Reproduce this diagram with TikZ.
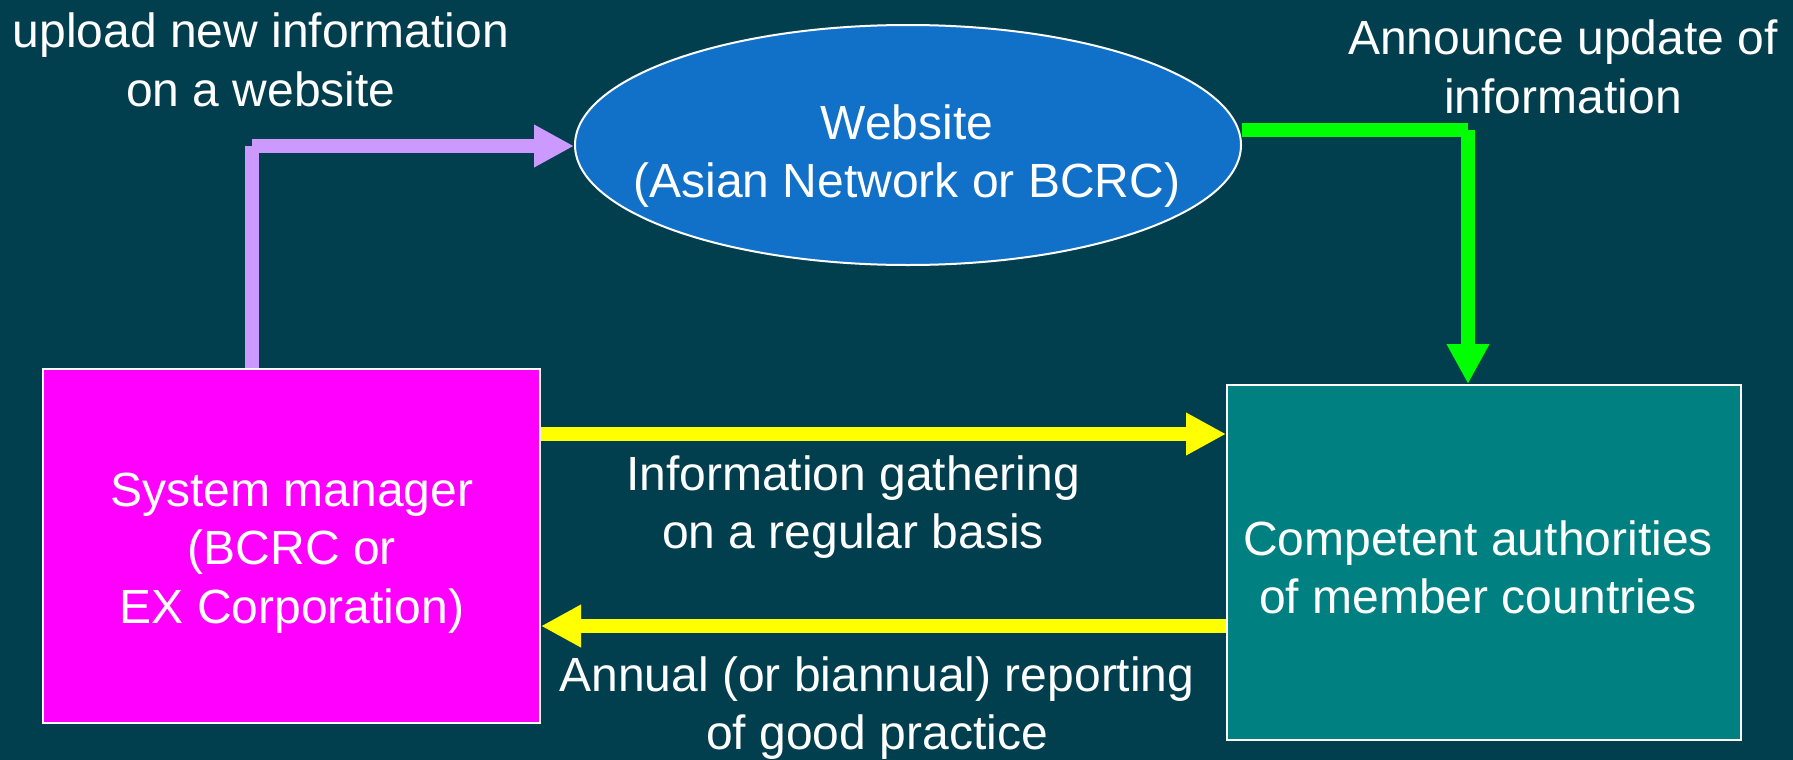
\documentclass[tikz,border=0pt]{standalone}
\usepackage{fontspec}
\setmainfont{Liberation Sans}
\usetikzlibrary{arrows.meta,shapes.geometric}
\definecolor{bgc}{RGB}{1,63,79}
\definecolor{webc}{RGB}{17,112,200}
\definecolor{tealc}{RGB}{0,128,128}
\definecolor{magc}{RGB}{255,0,255}
\definecolor{purc}{RGB}{204,153,255}
\definecolor{grnc}{RGB}{0,255,0}
\definecolor{yelc}{RGB}{255,255,0}
\tikzset{
  txt/.style={text=white, align=center, inner sep=0pt, font=\fontsize{24pt}{29.25pt}\selectfont},
  boxstyle/.style={draw=white, line width=1pt, inner sep=0pt},
  conn/.style={line width=7pt, line cap=butt},
  tipped/.style={conn, -{Triangle[length=20pt,width=20pt]}},
}
\begin{document}
\begin{tikzpicture}[x=0.5pt,y=-0.5pt]
\fill[bgc] (0,0) rectangle (1793,760);
\useasboundingbox (0,0) rectangle (1793,760);

\node[boxstyle, fill=magc, minimum width=248.5pt, minimum height=177pt] (sys) at (291.5,546) {};
\node[boxstyle, fill=tealc, minimum width=257pt, minimum height=177.5pt] (auth) at (1484,562.5) {};
\node[boxstyle, ellipse, fill=webc, minimum width=333pt, minimum height=120pt] (web) at (908,145) {};

\node[txt] (sysT) at (292,553) {System manager\\(BCRC or\\EX Corporation)};
\node[txt] (authT) at (1478,567.5) {Competent authorities\\of member countries};
\node[txt] (webT) at (907,156) {Website\\(Asian Network or BCRC)};

\node[txt] (lup) at (261,60) {upload new information\\on a website};
\node[txt] (lann) at (1563,67) {Announce update of\\information};
\node[txt] (lgat) at (853,507) {Information gathering\\on a regular basis};
\node[txt] (lrep) at (877,708) {Annual (or biannual) reporting\\of good practice};

\coordinate (pc) at (252,146);
\coordinate (gc) at (1468,130);
\coordinate (y1) at (0,434);
\coordinate (y2) at (0,626);

\draw[conn, purc] (pc |- sys.north) -- (pc);
\draw[tipped, purc] (pc) -- (web.west |- pc);

\draw[conn, grnc] (web.east |- gc) -- (gc);
\draw[tipped, grnc] (gc) -- (gc |- auth.north);

\draw[tipped, yelc] (sys.east |- y1) -- (auth.west |- y1);
\draw[tipped, yelc] (auth.west |- y2) -- (sys.east |- y2);
\end{tikzpicture}
\end{document}
